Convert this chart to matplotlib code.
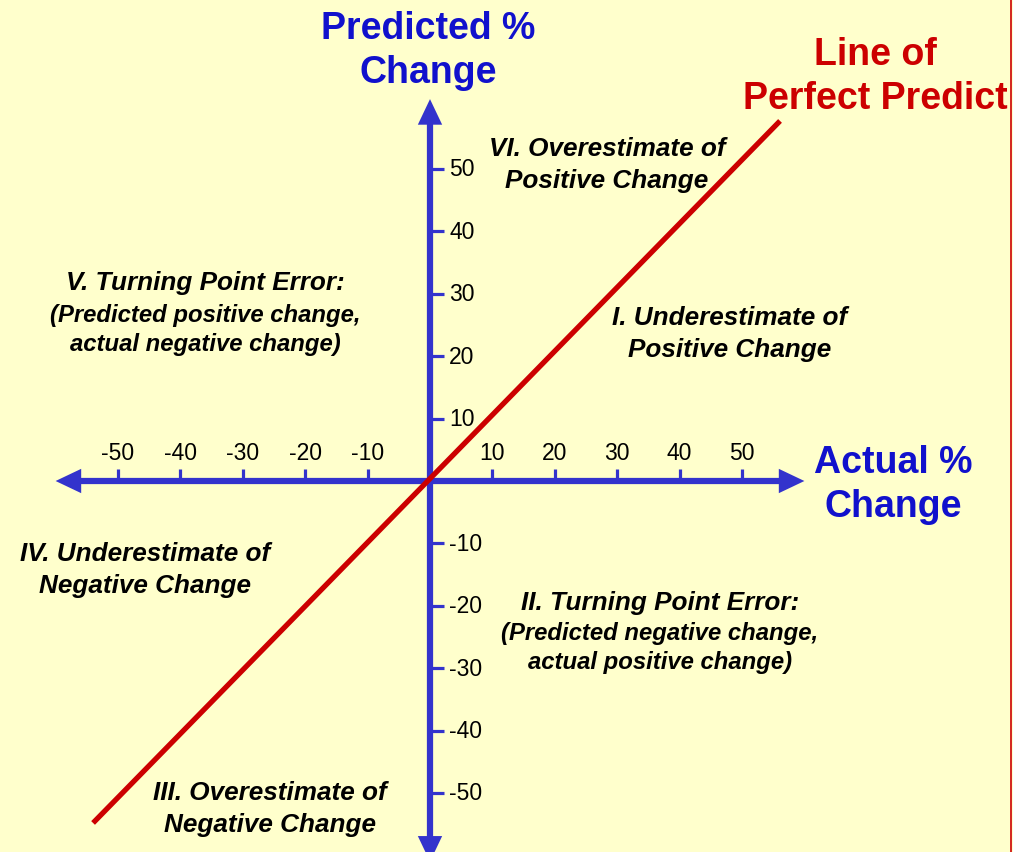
import numpy as np
import matplotlib
matplotlib.use('Agg')
import matplotlib.pyplot as plt

plt.rcParams['font.family'] = ['Liberation Sans', 'DejaVu Sans']

# data
x_ticks = [-50, -40, -30, -20, -10, 10, 20, 30, 40, 50]
y_ticks = [50, 40, 30, 20, 10, -10, -20, -30, -40, -50]
x_extent = [-60, 60]
y_extent = [-61, 61.2]
perfect_x = np.array([-53.7, 55.8])
perfect_y = np.array([-54.5, 57.4])

BG = '#FFFFCC'
BLUE = '#3333CC'
TITLE_BLUE = '#1111CC'
RED = '#CC0000'

W, H = 1013, 853
ox, oy, s = 430, 482, 6.24  # origin in px, px per unit

fig = plt.figure(figsize=(W / 100, H / 100), dpi=100)
fig.patch.set_facecolor(BG)
ax = fig.add_axes([0, 0, 1, 1])
ax.set_facecolor(BG)
ax.set_xlim(-ox / s, (W - ox) / s)
ax.set_ylim(-(H - oy) / s, oy / s)
ax.axis('off')

def P(px, py):
    return px / W, 1 - py / H

# axes with arrows
arrows = [(x_extent[1], 0), (x_extent[0], 0), (0, y_extent[1]), (0, y_extent[0])]
for dx, dy in arrows:
    ax.arrow(0, 0, dx, dy, width=1.0, head_width=3.9, head_length=4.1,
             length_includes_head=True, color=BLUE, zorder=2, lw=0)

# ticks
for t in x_ticks:
    ax.plot([t, t], [0, 2.0], color=BLUE, lw=2.3, solid_capstyle='butt', zorder=2)
    ax.text(t, 4.5, str(t), ha='center', va='center', fontsize=16.5, color='black')
for t in y_ticks:
    ax.plot([0, 2.2], [t, t], color=BLUE, lw=2.3, solid_capstyle='butt', zorder=2)
    ax.text(3.1, t, str(t), ha='left', va='center', fontsize=16.5, color='black')

# line of perfect prediction
ax.plot(perfect_x, perfect_y, color=RED, lw=3.8, zorder=3)

# right border
ax.axvline((1011 - ox) / s, color=RED, lw=1.2)

# titles
title = dict(transform=ax.transAxes, ha='center', va='center', fontsize=27,
             fontweight='bold', linespacing=1.27)
ax.text(*P(428, 51), 'Predicted %\nChange', color=TITLE_BLUE, **title)
ax.text(*P(893, 485), 'Actual %\nChange', color=TITLE_BLUE, **title)
ax.text(*P(875, 77), 'Line of\nPerfect Predict', color=RED, **title)

# quadrant labels
lab = dict(transform=ax.transAxes, ha='center', va='center', fontweight='bold',
           fontstyle='italic', color='black', linespacing=1.38)
ax.text(*P(607, 165), 'VI. Overestimate of\nPositive Change', fontsize=18.8, **lab)
ax.text(*P(730, 334), 'I. Underestimate of\nPositive Change', fontsize=18.8, **lab)
ax.text(*P(145, 570), 'IV. Underestimate of\nNegative Change', fontsize=18.8, **lab)
ax.text(*P(270, 809), 'III. Overestimate of\nNegative Change', fontsize=18.8, **lab)

ax.text(*P(205, 283), 'V. Turning Point Error:', fontsize=18.8, **lab)
ax.text(*P(205, 330), '(Predicted positive change,\nactual negative change)', fontsize=17.2, **lab)
ax.text(*P(660, 603), 'II. Turning Point Error:', fontsize=18.8, **lab)
ax.text(*P(660, 648), '(Predicted negative change,\nactual positive change)', fontsize=17.2, **lab)

fig.savefig('out.png', dpi=100, facecolor=BG)
